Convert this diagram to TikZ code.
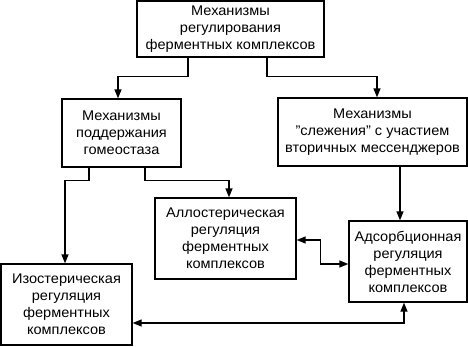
\documentclass[tikz,border=0pt]{standalone}
\usepackage{fontspec}
\setmainfont{Liberation Sans}[FakeStretch=1.04]
\usetikzlibrary{arrows.meta}
\begin{document}
\begin{tikzpicture}[x=1pt,y=1pt,
  box/.style={draw,line width=1.3pt,rectangle,align=center,inner sep=0pt,
    font=\fontsize{14}{17}\selectfont},
  conn/.style={line width=1.3pt},
  arr/.style={conn,-{Triangle[length=9pt,width=7pt]}},
  darr/.style={conn,{Triangle[length=9pt,width=7pt]}-{Triangle[length=9pt,width=7pt]}}]
\useasboundingbox (0,0) rectangle (468,-346);
\node[box,minimum width=187,minimum height=56] (top) at (230.5,-29)
  {Механизмы\\регулирования\\ферментных комплексов};
\node[box,minimum width=119,minimum height=68] (gomeo) at (121.5,-133)
  {Механизмы\\поддержания\\гомеостаза};
\node[box,minimum width=189,minimum height=68] (track) at (372.5,-132)
  {Механизмы\\"слежения" с участием\\вторичных мессенджеров};
\node[box,minimum width=141,minimum height=81] (allo) at (225.5,-238.5)
  {Аллостерическая\\регуляция\\ферментных\\комплексов};
\node[box,minimum width=118,minimum height=81] (ads) at (408,-261.5)
  {Адсорбционная\\регуляция\\ферментных\\комплексов};
\node[box,minimum width=131,minimum height=81] (iso) at (66.5,-304.5)
  {Изостерическая\\регуляция\\ферментных\\комплексов};
\draw[arr] ([xshift=-42.5]top.south) -- ++(0,-19) -| ([xshift=-3.5]gomeo.north);
\draw[arr] ([xshift=36.5]top.south) -- ++(0,-19) -| ([xshift=4.5]track.north);
\draw[arr] ([xshift=-32.5]gomeo.south) -- ++(0,-13) -| ([xshift=-1.5]iso.north);
\draw[arr] ([xshift=23.5]gomeo.south) -- ++(0,-13) -| ([xshift=3.5]allo.north);
\draw[arr] ([xshift=27.5]track.south) -- ([xshift=-8]ads.north);
\draw[darr] ([yshift=-1.5]allo.east) -- ++(24,0) |- ([yshift=-2.5]ads.west);
\draw[darr] ([yshift=-18.5]iso.east) -| ([xshift=-4]ads.south);
\end{tikzpicture}
\end{document}
